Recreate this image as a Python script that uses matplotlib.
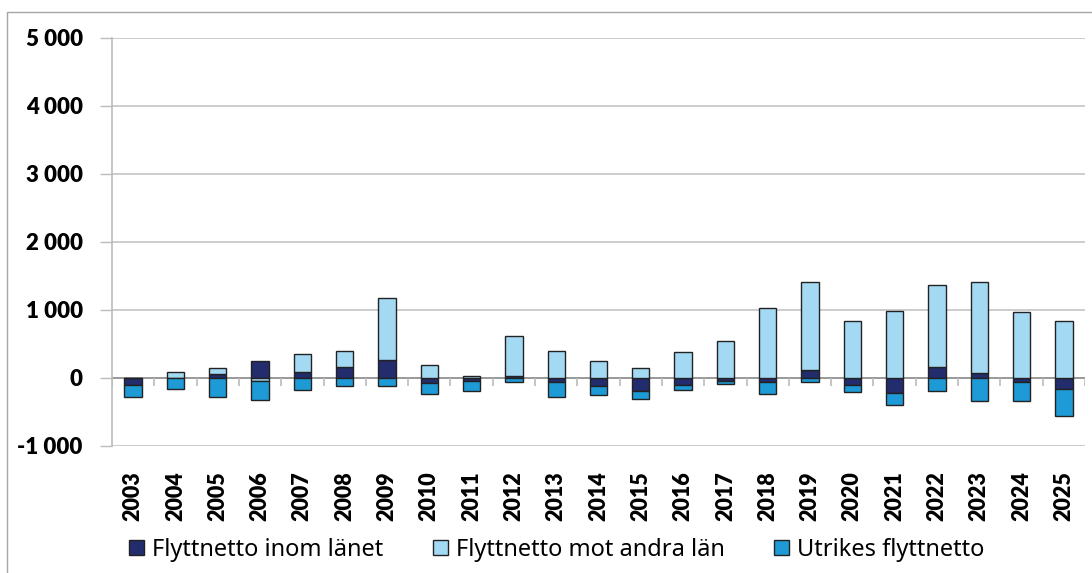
import matplotlib
matplotlib.use("Agg")
import matplotlib.pyplot as plt
from matplotlib import font_manager
from matplotlib.patches import Patch, Rectangle
import numpy as np

years = [str(y) for y in range(2003, 2026)]

# Flyttnetto inom länet
inom_lanet = [-98, 0, 63, 250, 88, 156, 264, -73, -40, 24, -58, -122,
              -194, -102, -49, -63, 121, -102, -223, 160, 68, -63, -160]
# Flyttnetto mot andra län
andra_lan = [5, 83, 78, -40, 270, 234, 903, 185, 30, 585, 395, 253,
             141, 388, 539, 1024, 1286, 830, 990, 1204, 1340, 966, 830]
# Utrikes flyttnetto
utrikes = [-182, -165, -280, -290, -175, -122, -117, -161, -150, -63, -225, -131,
           -121, -73, -34, -175, -53, -112, -180, -189, -335, -282, -403]

series = [
    ("Flyttnetto inom länet", inom_lanet, "#232C6C"),
    ("Flyttnetto mot andra län", andra_lan, "#A4D9F3"),
    ("Utrikes flyttnetto", utrikes, "#1E9BD7"),
]


def bold_family():
    # pick a Calibri-like family that really has a heavy face installed
    for fam in ["Lato", "Noto Sans", "Open Sans", "Roboto", "Liberation Sans"]:
        try:
            path = font_manager.findfont(
                font_manager.FontProperties(family=fam, weight="heavy"),
                fallback_to_default=False)
        except ValueError:
            continue
        name = path.lower()
        if any(k in name for k in ("-bold", "_bold", "heavy", "black", "bold.")):
            return fam
    return "DejaVu Sans"


BOLD_FAM = bold_family()
# tick labels are bold everywhere; the legend gets its own regular font
plt.rcParams["font.family"] = [BOLD_FAM, "DejaVu Sans"]
plt.rcParams["font.weight"] = "heavy"
plt.rcParams["xtick.labelsize"] = 15.5
plt.rcParams["ytick.labelsize"] = 16

W, H = 1092, 573
fig = plt.figure(figsize=(W / 100, H / 100), dpi=100)
ax = fig.add_axes([112 / W, 1 - 446 / H, (1085 - 112) / W, (446 - 37.5) / H])

# outer chart border (cropped at right/bottom)
fig.patches.append(Rectangle((7 / W, -0.05), 1.1, 1 - 12 / H + 0.05,
                             transform=fig.transFigure, fill=False,
                             edgecolor="#A6A6A6", linewidth=1.0))

x = np.arange(len(years))
pos_bottom = np.zeros(len(years))
neg_bottom = np.zeros(len(years))
for name, vals, color in series:
    v = np.array(vals, dtype=float)
    bottom = np.where(v >= 0, pos_bottom, neg_bottom)
    ax.bar(x, v, bottom=bottom, width=0.41, color=color,
           edgecolor="#222222", linewidth=1.0, zorder=3)
    pos_bottom += np.where(v >= 0, v, 0)
    neg_bottom += np.where(v < 0, v, 0)

ax.set_xlim(-0.5, len(years) - 0.5)
ax.set_ylim(-1000, 5000)
ax.set_yticks(range(-1000, 5001, 1000))
ax.set_yticklabels([f"{v:,}".replace(",", " ") for v in range(-1000, 5001, 1000)])
ax.grid(axis="y", color="#CCCCCC", linewidth=1.4, zorder=0)
ax.tick_params(axis="y", length=9, width=1, color="#BBBBBB", pad=12)

ax.set_xticks(x)
ax.set_xticklabels(years, rotation=90)
ax.tick_params(axis="x", length=0, pad=18)

for s in ["top", "right", "bottom"]:
    ax.spines[s].set_visible(False)
ax.spines["left"].set_color("#BBBBBB")
ax.spines["left"].set_linewidth(1.2)

# category axis at zero with tick marks between categories
ax.axhline(0, color="#999999", linewidth=1.4, zorder=2)
ax.vlines(np.arange(len(years) + 1) - 0.5, -115, 0, color="#BBBBBB",
          linewidth=1.2, zorder=2)

handles = [Patch(facecolor=c, edgecolor="#222222", linewidth=1.0, label=n)
           for n, _, c in series]
fig.legend(handles=handles, loc="center", bbox_to_anchor=(0.510, 1 - 550 / H),
           ncol=3, frameon=False, handlelength=0.62,
           handleheight=0.62, handletextpad=0.35, columnspacing=2.1,
           prop=dict(family=["Noto Sans", "DejaVu Sans"], size=17, weight="normal"))

fig.savefig("out.png", dpi=100, facecolor="white")
